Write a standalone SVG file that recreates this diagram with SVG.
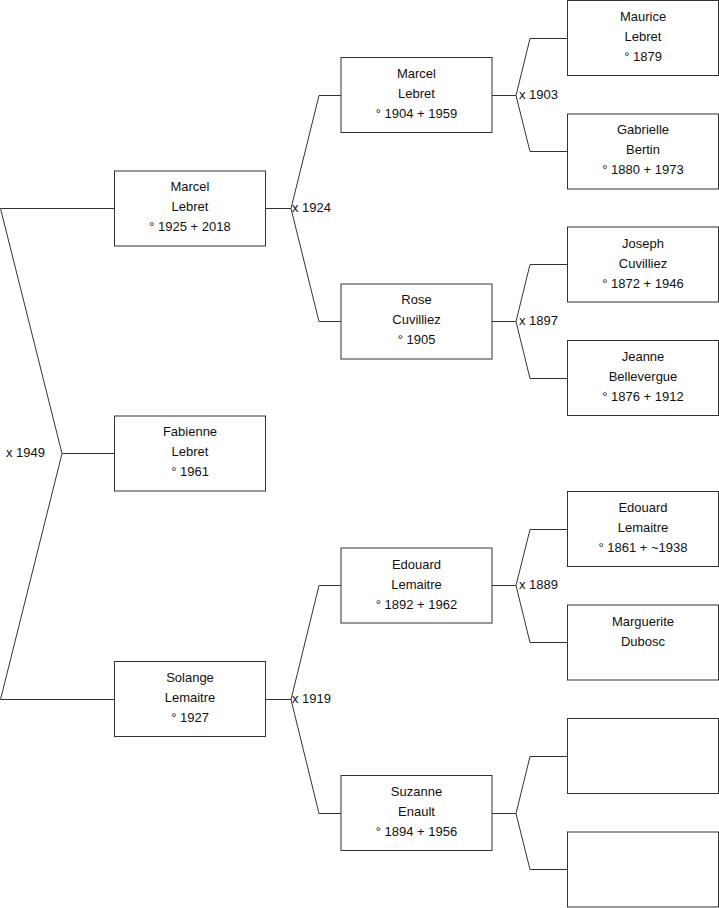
<svg xmlns="http://www.w3.org/2000/svg" width="719" height="908" viewBox="0 0 719 908">
<style>
.box{fill:#fff;stroke:#333;stroke-width:1}
.t{font-family:"Liberation Sans",Arial,sans-serif;font-size:13px;fill:#111;text-anchor:middle}
.lbl{font-family:"Liberation Sans",Arial,sans-serif;font-size:13px;fill:#111}
.c{fill:none;stroke:#333;stroke-width:1}
</style>
<rect width="719" height="908" fill="#fff"/>
<g id="connectors">
<polyline class="c" points="114,208.5 0.5,208.5 62,453.5 0.5,699.5 114,699.5"/>
<line class="c" x1="62" y1="453.5" x2="114" y2="453.5"/>
<polyline class="c" points="341,95.5 319,95.5 291,208.5 319,321.5 341,321.5"/>
<line class="c" x1="265" y1="208.5" x2="291" y2="208.5"/>
<polyline class="c" points="341,585.5 319,585.5 291,699.5 319,813.5 341,813.5"/>
<line class="c" x1="265" y1="699.5" x2="291" y2="699.5"/>
<polyline class="c" points="567,38.5 530,38.5 516,95.5 530,151.5 567,151.5"/>
<line class="c" x1="492" y1="95.5" x2="516" y2="95.5"/>
<polyline class="c" points="567,264.5 530,264.5 516,321.5 530,378.5 567,378.5"/>
<line class="c" x1="492" y1="321.5" x2="516" y2="321.5"/>
<polyline class="c" points="567,529.5 530,529.5 516,585.5 530,642.5 567,642.5"/>
<line class="c" x1="492" y1="585.5" x2="516" y2="585.5"/>
<polyline class="c" points="567,756.5 530,756.5 516,813.5 530,869.5 567,869.5"/>
<line class="c" x1="492" y1="813.5" x2="516" y2="813.5"/>
<text class="lbl" x="6" y="457">x 1949</text>
<text class="lbl" x="292" y="212">x 1924</text>
<text class="lbl" x="292" y="703">x 1919</text>
<text class="lbl" x="519" y="99">x 1903</text>
<text class="lbl" x="519" y="325">x 1897</text>
<text class="lbl" x="519" y="589">x 1889</text>
</g>
<g id="n-marcel-1925"><rect class="box" x="114.5" y="171" width="151" height="75"/><text class="t" x="190" y="191">Marcel</text><text class="t" x="190" y="211">Lebret</text><text class="t" x="190" y="231">° 1925 + 2018</text></g>
<g id="n-fabienne"><rect class="box" x="114.5" y="416" width="151" height="75"/><text class="t" x="190" y="436">Fabienne</text><text class="t" x="190" y="456">Lebret</text><text class="t" x="190" y="476">° 1961</text></g>
<g id="n-solange"><rect class="box" x="114.5" y="661.5" width="151" height="75"/><text class="t" x="190" y="682">Solange</text><text class="t" x="190" y="702">Lemaitre</text><text class="t" x="190" y="722">° 1927</text></g>
<g id="n-marcel-1904"><rect class="box" x="341" y="57.5" width="151" height="75"/><text class="t" x="416.5" y="78">Marcel</text><text class="t" x="416.5" y="98">Lebret</text><text class="t" x="416.5" y="118">° 1904 + 1959</text></g>
<g id="n-rose"><rect class="box" x="341" y="284" width="151" height="75"/><text class="t" x="416.5" y="304">Rose</text><text class="t" x="416.5" y="324">Cuvilliez</text><text class="t" x="416.5" y="344">° 1905</text></g>
<g id="n-edouard-1892"><rect class="box" x="341" y="548" width="151" height="75"/><text class="t" x="416.5" y="569">Edouard</text><text class="t" x="416.5" y="589">Lemaitre</text><text class="t" x="416.5" y="609">° 1892 + 1962</text></g>
<g id="n-suzanne"><rect class="box" x="341" y="775.5" width="151" height="75"/><text class="t" x="416.5" y="796">Suzanne</text><text class="t" x="416.5" y="816">Enault</text><text class="t" x="416.5" y="836">° 1894 + 1956</text></g>
<g id="n-maurice"><rect class="box" x="567.5" y="0.5" width="151" height="75"/><text class="t" x="643" y="21">Maurice</text><text class="t" x="643" y="41">Lebret</text><text class="t" x="643" y="61">° 1879</text></g>
<g id="n-gabrielle"><rect class="box" x="567.5" y="114" width="151" height="75"/><text class="t" x="643" y="134">Gabrielle</text><text class="t" x="643" y="154">Bertin</text><text class="t" x="643" y="174">° 1880 + 1973</text></g>
<g id="n-joseph"><rect class="box" x="567.5" y="227" width="151" height="75"/><text class="t" x="643" y="248">Joseph</text><text class="t" x="643" y="268">Cuvilliez</text><text class="t" x="643" y="288">° 1872 + 1946</text></g>
<g id="n-jeanne"><rect class="box" x="567.5" y="340.5" width="151" height="75"/><text class="t" x="643" y="361">Jeanne</text><text class="t" x="643" y="381">Bellevergue</text><text class="t" x="643" y="401">° 1876 + 1912</text></g>
<g id="n-edouard-1861"><rect class="box" x="567.5" y="491.5" width="151" height="75"/><text class="t" x="643" y="512">Edouard</text><text class="t" x="643" y="532">Lemaitre</text><text class="t" x="643" y="552">° 1861 + ~1938</text></g>
<g id="n-marguerite"><rect class="box" x="567.5" y="605" width="151" height="75"/><text class="t" x="643" y="626">Marguerite</text><text class="t" x="643" y="646">Dubosc</text></g>
<g id="n-empty-1"><rect class="box" x="567.5" y="718.5" width="151" height="75"/></g>
<g id="n-empty-2"><rect class="box" x="567.5" y="832" width="151" height="75"/></g>
</svg>
